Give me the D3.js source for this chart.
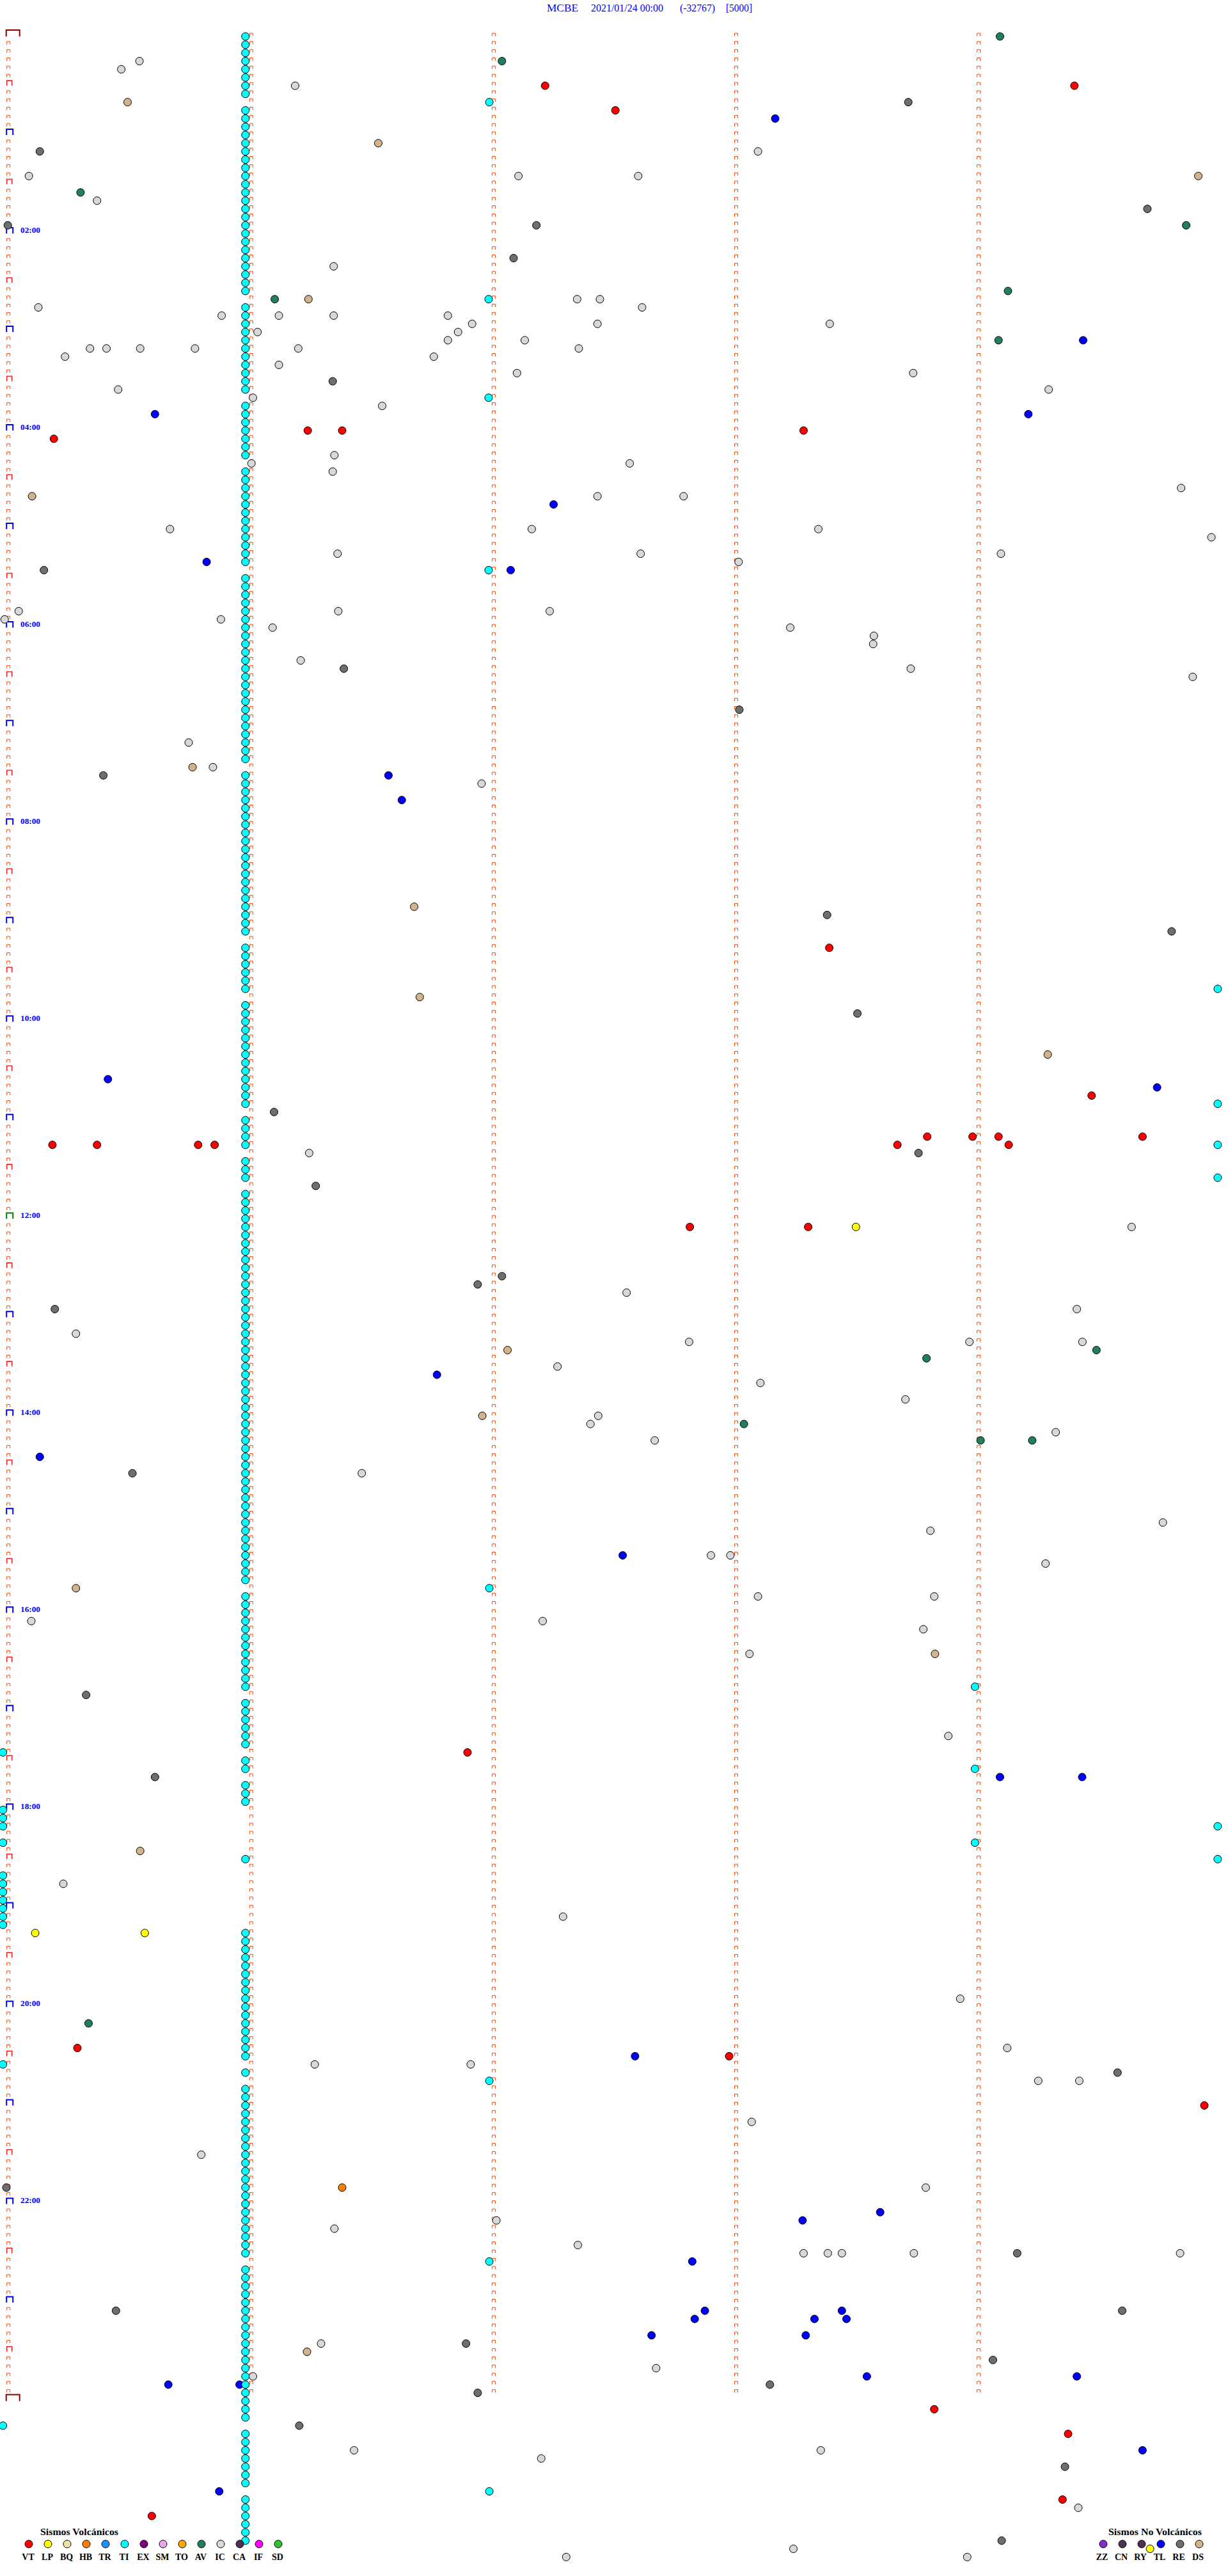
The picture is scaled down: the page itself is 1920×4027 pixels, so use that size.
<!DOCTYPE html>
<html>
<head>
<meta charset="utf-8">
<script src="https://cdn.jsdelivr.net/npm/d3@7"></script>
<style>
  html, body { margin: 0; padding: 0; background: #ffffff; }
  svg { display: block; }
  text { font-family: "Liberation Serif", "Times New Roman", "DejaVu Serif", serif; }
</style>
</head>
<body>
<script>
// ---------------- DATA ----------------
// Title pieces
const titleParts = ["MCBE", "2021/01/24 00:00", "(-32767)", "[5000]"];

// Hour labels (every 2 hours) and their 5‑minute row index
const hourLabels = ["02:00","04:00","06:00","08:00","10:00","12:00","14:00","16:00","18:00","20:00","22:00"];
const hourLabelRows = [24, 48, 72, 96, 120, 144, 168, 192, 216, 240, 264];

// Legend categories
const volcanicTypes  = ["VT","LP","BQ","HB","TR","TI","EX","SM","TO","AV","IC","CA","IF","SD"];
const volcanicColors = ["#ff0000","#ffff00","#eee3a8","#ff8000","#1e90ff","#00ffff","#800080","#e8a8e8","#ffa500","#20805e","#d8d8d8","#503050","#ff00ff","#33c033"];
const nonVolcanicTypes  = ["ZZ","CN","RY","TL","RE","DS"];
const nonVolcanicColors = ["#8030c8","#4a3552","#503050","#0000ff","#6e6e6e","#d2b48c"];

// Events: [row (5‑minute line since 00:00), minute within the line]
const VT = [[6,2.216],[6,4.399],[9,2.506],[48,1.237],[48,1.379],[48,3.282],[49,0.19],[111,3.388],[129,4.47],
  [134,3.792],[134,3.979],[134,4.086],[134,4.68],[135,0.184],[135,0.368],[135,0.785],[135,0.853],[135,3.669],[135,4.128],
  [145,2.813],[145,3.301],[209,1.896],[245,0.287],[246,2.975],[252,4.935],[289,3.821],[292,4.373],[300,4.35],[302,0.594]];

const LP = [[145,3.498],[231,0.113],[231,0.565],[306,4.711]];

const HB = [[262,1.379]];

// TI column (rows where the event sits just before minute 1)
const tiColumnRows = [0,1,2,3,4,5,6,7,
  9,10,11,12,13,14,15,16,17,18,19,20,21,22,23,24,25,26,27,28,29,30,31,
  33,34,35,36,37,38,39,40,41,42,43,
  45,46,47,48,49,50,51,
  53,54,55,56,57,58,59,60,61,62,63,64,
  66,67,68,69,70,71,72,73,74,75,76,77,78,79,80,81,82,83,84,85,86,87,88,
  90,91,92,93,94,95,96,97,98,99,100,101,102,103,104,105,106,107,108,109,
  111,112,113,114,115,116,
  118,119,120,121,122,123,124,125,126,127,128,129,130,
  132,133,134,135,
  137,138,139,
  141,142,143,144,145,146,147,148,149,150,151,152,153,154,155,156,157,158,159,160,161,162,163,164,
  165,166,167,168,169,170,171,172,173,174,175,176,177,178,179,180,181,182,183,184,185,186,187,188,
  190,191,192,193,194,195,196,197,198,199,200,201,
  203,204,205,206,207,208,
  210,211,
  213,214,215,
  222,
  231,232,233,234,235,236,237,238,239,240,241,242,243,244,245,246,
  248,
  250,251,252,253,254,255,256,257,258,259,260,261,262,263,264,265,266,267,268,269,270,
  272,273,274,275,276,277,278,279,280,281,282,283,284,285,286,287,288,289,290,
  292,293,294,295,296,297,298,
  300,301,302,303,304,305];
const tiColumnMinute = 0.98;

const TI_other = [[8,1.986],[32,1.983],[44,1.983],[65,1.983],[116,4.99],[130,4.99],[135,4.99],[139,4.99],
  [189,1.986],[201,3.989],[211,3.989],[218,4.99],[220,3.989],[222,4.99],[249,1.986],[271,1.986],[299,1.986],
  [209,-0.02],[216,-0.02],[217,-0.02],[218,-0.02],[220,-0.02],[224,-0.02],[225,-0.02],[226,-0.02],
  [227,-0.02],[228,-0.02],[229,-0.02],[230,-0.02],[247,-0.02],[291,-0.02]];

const AV = [[0,4.092],[3,2.038],[19,0.30],[23,4.86],[31,4.125],[32,1.101],[37,4.086],[160,4.49],[161,3.789],
  [169,3.036],[171,4.012],[171,4.225],[242,0.333]];

const IC = [[3,0.543],[4,0.468],[6,1.185],[14,3.094],[17,0.087],[17,2.106],[17,2.600],[20,0.368],[28,1.344],
  [32,2.348],[32,2.442],[33,0.126],[33,2.616],[34,0.882],[34,1.118],[34,1.344],[34,1.815],[35,1.915],[35,2.432],
  [35,3.39],[36,1.03],[36,1.857],[37,1.815],[37,2.132],[38,0.339],[38,0.407],[38,0.546],[38,0.772],[38,1.198],
  [38,2.355],[39,0.236],[39,1.757],[40,1.118],[41,2.10],[41,3.734],[43,0.455],[43,4.293],[44,1.011],[45,1.544],
  [51,1.347],[52,1.005],[52,2.565],[53,1.34],[55,4.839],[56,2.432],[56,2.787],[60,0.669],[60,2.161],[60,3.343],
  [61,4.964],[63,1.36],[63,2.61],[63,4.096],[64,3.014],[70,0.045],[70,1.363],[70,2.235],[71,-0.013],[71,0.879],
  [72,1.092],[72,3.227],[73,3.572],[74,3.569],[76,1.208],[77,3.724],[78,4.887],[86,0.746],[89,0.846],[91,1.954],
  [136,1.243],
  [145,4.635],[153,2.552],[155,4.409],[158,0.281],[159,2.81],[159,3.966],[159,4.432],[162,2.267],[164,3.104],
  [166,3.702],[168,2.435],[169,2.403],[170,4.322],[171,2.668],[175,1.46],[181,4.764],[182,3.805],[185,2.9],[185,2.98],
  [186,4.28],[190,3.094],[190,3.821],[193,0.097],[193,2.206],[194,3.776],[197,3.059],[207,3.879],[225,0.229],[229,2.29],
  [239,3.928],[245,4.122],[247,1.266],[247,1.909],[249,4.25],[249,4.419],[254,3.068],[258,0.798],[262,3.786],
  [266,2.015],[267,1.347],[269,2.351],[270,3.282],[270,3.382],[270,3.44],[270,3.737],[270,4.835],
  [281,1.292],[284,2.674],[285,1.011],[294,1.428],[294,3.353],[295,2.2],[301,4.415],[306,3.24],[307,2.303],[307,3.957]];

const RE = [[8,3.714],[14,0.132],[21,4.70],[23,0.0],[23,2.18],[27,2.086],[42,1.34],[65,0.149],[77,1.386],[82,3.017],
  [90,0.394],[107,3.379],[109,4.8],[119,3.504],[131,1.098],[136,3.756],[140,1.27],[151,2.038],[152,1.938],[155,0.194],
  [175,0.514],[202,0.323],[212,0.607],[248,4.577],[262,-0.006],[270,4.163],[277,0.446],[277,4.596],[281,1.89],
  [283,4.063],[286,3.143],[287,1.938],[291,1.202],[296,4.36],[305,4.099]];

const TL = [[10,3.165],[37,4.435],[46,0.607],[46,4.209],[57,2.251],[64,0.82],[65,2.074],[90,1.57],[93,1.625],
  [127,0.413],[128,4.74],[163,1.77],[173,0.132],[185,2.536],[212,4.092],[212,4.431],[246,2.587],[265,3.598],
  [266,3.278],[271,2.823],[277,2.875],[277,3.44],[278,2.833],[278,3.327],[278,3.459],[280,2.655],[280,3.291],
  [285,3.543],[285,4.409],[286,0.662],[286,0.956],[294,4.68],[299,0.872]];

const DS = [[8,0.494],[13,1.528],[17,4.91],[32,1.24],[56,0.10],[89,0.762],[106,1.676],[117,1.699],[124,4.289],
  [160,2.061],[168,1.957],[189,0.281],[197,3.824],[221,0.546],[282,1.234]];

// ---------------- DRAW ----------------
const W = 1920, H = 4027;
const ROWS = 288;            // 24 h of 5‑minute lines
const ROW_H = 12.835;

const svg = d3.select("body").append("svg")
  .attr("width", W).attr("height", H)
  .attr("viewBox", `0 0 ${W} ${H}`);
svg.append("rect").attr("width", W).attr("height", H).attr("fill", "#fff");

const x = d3.scaleLinear().domain([0, 5]).range([12.2, 1907.7]);
const y = d3.scaleLinear().domain([0, ROWS]).range([57, 57 + ROWS * ROW_H]);

const colorOf = {};
volcanicTypes.forEach((t, i) => colorOf[t] = volcanicColors[i]);
nonVolcanicTypes.forEach((t, i) => colorOf[t] = nonVolcanicColors[i]);

// Title
const titleX = [855, 924, 1063, 1135];
const titleW = [49, 113, 55, 41];
svg.append("g").selectAll("text").data(titleParts).join("text")
  .attr("x", (d, i) => titleX[i]).attr("y", 18)
  .attr("textLength", (d, i) => titleW[i]).attr("lengthAdjust", "spacingAndGlyphs")
  .attr("font-size", 16).attr("fill", "#0000ff")
  .text(d => d);

// Tick marks ("⊓" shapes)
const ticks = svg.append("g").attr("fill", "none");
function bracket(x0, x1, yb, h) {
  return `M${x0},${yb}V${yb - h}H${x1}V${yb}`;
}
// Left column
d3.range(0, ROWS + 1).forEach(r => {
  const yb = y(r);
  const x0 = x(0);
  if (r === 0 || r === ROWS) {
    ticks.append("path").attr("d", bracket(x0 - 2.5, x0 + 18.5, yb, 10))
      .attr("stroke", "#8b0000").attr("stroke-width", 2);
  } else if (r % 12 === 0) {
    ticks.append("path").attr("d", bracket(x0 - 2, x0 + 8, yb, 9))
      .attr("stroke", r === 144 ? "#008000" : "#0000ff").attr("stroke-width", 2);
  } else if (r % 12 === 6) {
    ticks.append("path").attr("d", bracket(x0 - 1.5, x0 + 6.5, yb, 8))
      .attr("stroke", "#ff0000").attr("stroke-width", 1.3);
  } else {
    ticks.append("path").attr("d", bracket(x0 - 1.5, x0 + 3.5, yb - 0.5, 4.5))
      .attr("stroke", "#ff4500").attr("stroke-width", 1);
  }
});
// Minute columns 1..4
[1, 2, 3, 4].forEach(m => {
  d3.range(0, ROWS).forEach(r => {
    const xm = x(m) + 1.5;
    ticks.append("path").attr("d", bracket(xm - 2.5, xm + 2.5, y(r) - 0.5, 4.5))
      .attr("stroke", "#ff4500").attr("stroke-width", 1);
  });
});

// Hour labels
svg.append("g").selectAll("text").data(hourLabels).join("text")
  .attr("x", 32).attr("y", (d, i) => y(hourLabelRows[i]) - 1)
  .attr("font-size", 13).attr("font-weight", "bold").attr("fill", "#0000ff")
  .attr("textLength", 31).attr("lengthAdjust", "spacingAndGlyphs")
  .text(d => d);

// Events
const events = [];
tiColumnRows.forEach(r => events.push({ type: "TI", row: r, min: tiColumnMinute }));
const addAll = (arr, type) => arr.forEach(([r, m]) => events.push({ type, row: r, min: m }));
addAll(TI_other, "TI");
addAll(IC, "IC");
addAll(DS, "DS");
addAll(AV, "AV");
addAll(RE, "RE");
addAll(TL, "TL");
addAll(VT, "VT");
addAll(LP, "LP");
addAll(HB, "HB");
events.sort((a, b) => a.row - b.row || a.min - b.min);

svg.append("g").selectAll("circle").data(events).join("circle")
  .attr("cx", d => x(d.min)).attr("cy", d => y(d.row))
  .attr("r", 6)
  .attr("fill", d => colorOf[d.type])
  .attr("stroke", "#000").attr("stroke-width", 1);

// Legends
const legY = 3977;
const lv = svg.append("g");
lv.append("text").attr("x", 63).attr("y", 3962.5)
  .attr("font-size", 15).attr("font-weight", "bold").attr("fill", "#000")
  .attr("textLength", 122).attr("lengthAdjust", "spacingAndGlyphs")
  .text("Sismos Volcánicos");
const legX = d3.scalePoint().domain(volcanicTypes).range([45, 45 + 30 * (volcanicTypes.length - 1)]);
lv.selectAll("circle").data(volcanicTypes).join("circle")
  .attr("cx", d => legX(d)).attr("cy", legY).attr("r", 6)
  .attr("fill", d => colorOf[d]).attr("stroke", "#000").attr("stroke-width", 1);
lv.selectAll("text.lab").data(volcanicTypes).join("text").attr("class", "lab")
  .attr("x", d => legX(d) - 1).attr("y", 4001.5).attr("text-anchor", "middle")
  .attr("font-size", 14).attr("font-weight", "bold").attr("fill", "#000")
  .text(d => d);

const ln = svg.append("g");
ln.append("text").attr("x", 1733).attr("y", 3962.5)
  .attr("font-size", 15).attr("font-weight", "bold").attr("fill", "#000")
  .attr("textLength", 146).attr("lengthAdjust", "spacingAndGlyphs")
  .text("Sismos No Volcánicos");
const legX2 = d3.scalePoint().domain(nonVolcanicTypes).range([1725, 1725 + 30 * (nonVolcanicTypes.length - 1)]);
ln.selectAll("circle").data(nonVolcanicTypes).join("circle")
  .attr("cx", d => legX2(d)).attr("cy", legY).attr("r", 6)
  .attr("fill", d => colorOf[d]).attr("stroke", "#000").attr("stroke-width", 1);
ln.selectAll("text.lab").data(nonVolcanicTypes).join("text").attr("class", "lab")
  .attr("x", d => legX2(d) - 2).attr("y", 4001.5).attr("text-anchor", "middle")
  .attr("font-size", 14).attr("font-weight", "bold").attr("fill", "#000")
  .text(d => d);
</script>
</body>
</html>
